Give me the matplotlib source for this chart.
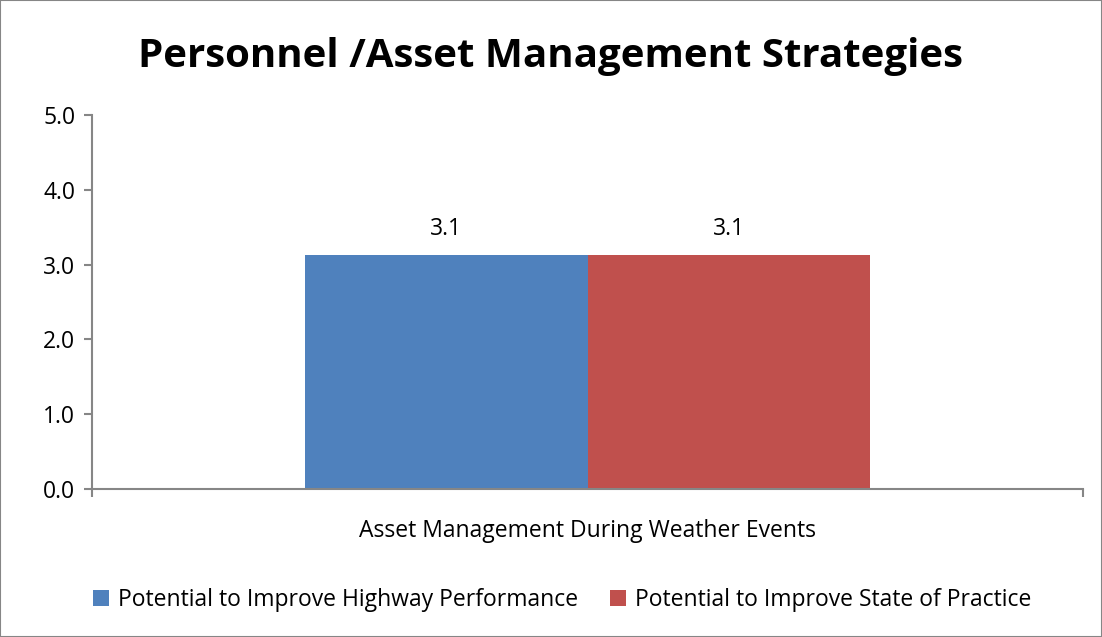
import matplotlib.pyplot as plt
from matplotlib.patches import Rectangle

plt.rcParams['font.family'] = ['Open Sans', 'DejaVu Sans']

category = 'Asset Management During Weather Events'
series = ['Potential to Improve Highway Performance', 'Potential to Improve State of Practice']
values = [3.13, 3.13]
colors = ['#4F81BD', '#C0504D']
yticks = [0.0, 1.0, 2.0, 3.0, 4.0, 5.0]

fig = plt.figure(figsize=(11.02, 6.37), dpi=100)
ax = fig.add_axes([92 / 1102, 1 - 489 / 637, 991 / 1102, 374 / 637])

width = 0.285
offsets = [-width / 2, width / 2]
for off, v, c, name in zip(offsets, values, colors, series):
    ax.bar(off, v, width=width, color=c, label=name)
    ax.text(off, v + 0.34, f'{v:.1f}', ha='center', va='center', fontsize=16.5)

ax.set_xlim(-0.5, 0.5)
ax.set_ylim(0, 5)
ax.set_yticks(yticks)
ax.set_yticklabels([f'{t:.1f}' for t in yticks], fontsize=16.5)
ax.set_xticks([-0.5, 0.5])
ax.set_xticklabels(['', ''])
ax.text(0, -0.56, category, ha='center', va='center', fontsize=16.5)

grey = '#868686'
for s in ['top', 'right']:
    ax.spines[s].set_visible(False)
for s in ['left', 'bottom']:
    ax.spines[s].set_color(grey)
    ax.spines[s].set_linewidth(1.5)
ax.tick_params(axis='both', color=grey, width=1.5, length=6, direction='out', pad=6)

fig.suptitle('Personnel /Asset Management Strategies', fontsize=29, fontweight='bold',
             y=1 - 57 / 637, va='center')

fig.legend(loc='center', bbox_to_anchor=(0.51, 1 - 600 / 637), ncol=2, frameon=False,
           fontsize=16.5, handlelength=0.7, handleheight=0.7, handletextpad=0.4,
           columnspacing=1.4)

fig.patches.append(Rectangle((0, 0), 1, 1, transform=fig.transFigure, fill=False,
                             edgecolor=grey, linewidth=1.5))

fig.savefig('out.png', dpi=100)
